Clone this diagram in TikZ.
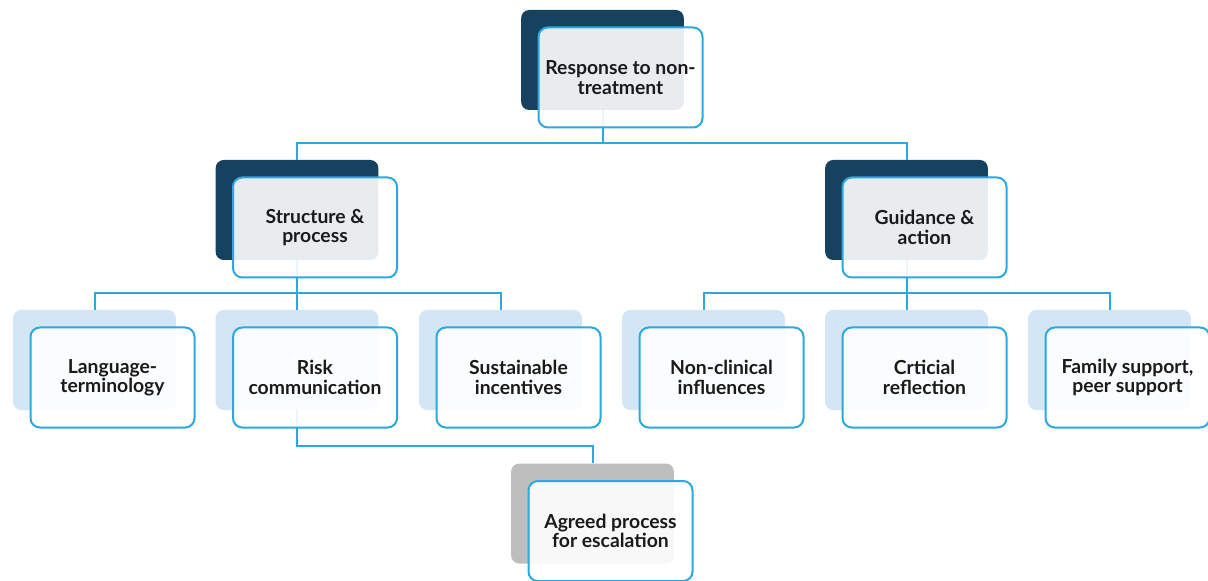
\documentclass[tikz,border=0pt]{standalone}
\usepackage{fontspec}
\setmainfont{Lato}
\usepackage{tikz}
\usetikzlibrary{positioning}
\definecolor{Navy}{HTML}{16425F}
\definecolor{Sky}{HTML}{D2E6F5}
\definecolor{Stone}{HTML}{BEBEBE}
\definecolor{Cyan}{HTML}{2AA8E0}
\definecolor{Ink}{HTML}{1A1A1A}

\begin{document}
\begin{tikzpicture}[
  x=0.75pt,y=-0.75pt,
  back/.style={rounded corners=6pt,minimum width=122pt,minimum height=75pt,inner sep=0pt},
  lead/.style={back,fill=Navy},
  sub/.style={back,fill=Sky},
  grey/.style={back,fill=Stone},
  card/.style={draw=Cyan,line width=1.5pt,fill=white,fill opacity=0.9,text opacity=1,rounded corners=7pt,
    minimum width=123pt,minimum height=75pt,inner sep=2pt,align=center,text=Ink,
    font=\bfseries\fontsize{14.5}{14.5}\selectfont},
  link/.style={draw=Cyan,line width=1.5pt}
]
  \useasboundingbox (0,0) rectangle (1208,581);

  % back plates
  \node[lead] (top) at (602.5,60) {};
  \node[lead] (struct) at (297,210) {};
  \node[lead] (guide) at (906.5,210) {};
  \node[sub] (lang) at (94.5,360) {};
  \node[sub] (risk) at (297,360) {};
  \node[sub] (sust) at (500.5,360) {};
  \node[sub] (nonc) at (703.5,360) {};
  \node[sub] (crit) at (906.5,360) {};
  \node[sub] (fam) at (1109.5,360) {};
  \node[grey] (agree) at (592.5,513.5) {};

  % tree links
  \draw[link] (struct.north) -- ++(0,-17) -| (top.south);
  \draw[link] (guide.north) -- ++(0,-17) -| (top.south);
  \draw[link] (lang.north) -- ++(0,-17) -| (struct.south);
  \draw[link] (risk.north) -- (struct.south);
  \draw[link] (sust.north) -- ++(0,-17) -| (struct.south);
  \draw[link] (nonc.north) -- ++(0,-17) -| (guide.south);
  \draw[link] (crit.north) -- (guide.south);
  \draw[link] (fam.north) -- ++(0,-17) -| (guide.south);
  \draw[link] (agree.north) -- ++(0,-17) -| (risk.south);

  % front cards
  \node[card] (topF) at ([shift={(18,17.5)}]top.center) {Response to non-\\treatment};
  \node[card] (structF) at ([shift={(18,17.5)}]struct.center) {Structure \&\\process};
  \node[card] (guideF) at ([shift={(18,17.5)}]guide.center) {Guidance \&\\action};
  \node[card] (langF) at ([shift={(18,17.5)}]lang.center) {Language-\\terminology};
  \node[card] (riskF) at ([shift={(18,17.5)}]risk.center) {Risk\\communication};
  \node[card] (sustF) at ([shift={(18,17.5)}]sust.center) {Sustainable\\incentives};
  \node[card] (noncF) at ([shift={(18,17.5)}]nonc.center) {Non-clinical\\influences};
  \node[card] (critF) at ([shift={(18,17.5)}]crit.center) {Crticial\\reflection};
  \node[card] (famF) at ([shift={(18,17.5)}]fam.center) {Family support,\\peer support};
  \node[card] (agreeF) at ([shift={(18,17.5)}]agree.center) {Agreed process\\for escalation};
\end{tikzpicture}
\end{document}
